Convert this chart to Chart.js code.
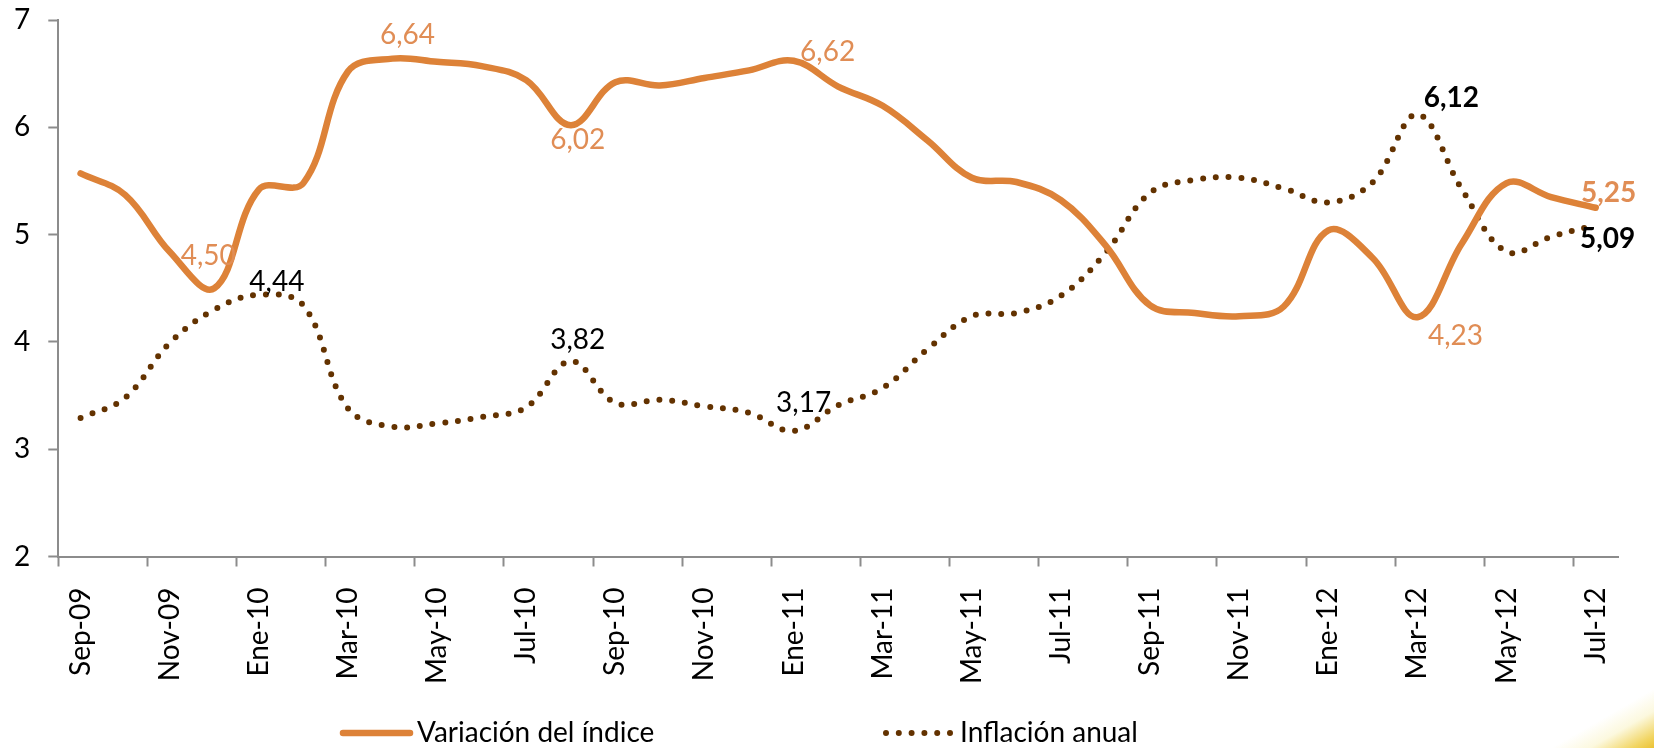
<!DOCTYPE html>
<html>
<head>
<meta charset="utf-8">
<script src="https://cdn.jsdelivr.net/npm/chart.js@4.4.1/dist/chart.umd.min.js"></script>
<style>
  html, body { margin: 0; padding: 0; background: #ffffff; }
  #wrap { position: relative; width: 1654px; height: 748px; overflow: hidden; background: #ffffff; }
  #corner { position: absolute; right: 0; bottom: 0; width: 110px; height: 60px;
    background: linear-gradient(150deg, rgba(255,255,255,0) 52%, rgba(250,244,200,0.6) 70%, rgba(240,208,80,0.9) 90%, #EBC235 100%); }
  canvas { display: block; position: relative; }
</style>
</head>
<body>
<div id="wrap"><div id="corner"></div><canvas id="c" width="1654" height="748"></canvas></div>
<script>
// ---- Data ----
const months = ["Sep-09","Oct-09","Nov-09","Dic-09","Ene-10","Feb-10","Mar-10","Abr-10","May-10","Jun-10","Jul-10","Ago-10",
  "Sep-10","Oct-10","Nov-10","Dic-10","Ene-11","Feb-11","Mar-11","Abr-11","May-11","Jun-11","Jul-11","Ago-11",
  "Sep-11","Oct-11","Nov-11","Dic-11","Ene-12","Feb-12","Mar-12","Abr-12","May-12","Jun-12","Jul-12"];

const variacionIndice = [5.57,5.37,4.84,4.50,5.42,5.48,6.52,6.64,6.61,6.57,6.44,6.02,
  6.42,6.39,6.46,6.53,6.62,6.38,6.20,5.88,5.53,5.49,5.32,4.90,
  4.34,4.27,4.24,4.33,5.04,4.78,4.23,4.92,5.48,5.35,5.25];

const inflacionAnual = [3.29,3.48,3.99,4.30,4.44,4.34,3.38,3.21,3.24,3.30,3.39,3.82,
  3.43,3.46,3.40,3.34,3.17,3.41,3.57,3.93,4.24,4.27,4.43,4.83,
  5.39,5.51,5.53,5.43,5.30,5.49,6.12,5.42,4.84,4.98,5.09];

const seriesNames = ["Variación del índice", "Inflación anual"];
const yTicks = [2, 3, 4, 5, 6, 7];

// indices of points that carry a value label
const labelledVariacion = [3, 7, 11, 16, 30, 34];
const labelledInflacion = [4, 11, 16, 30, 34];

// ---- Styles ----
const ORANGE = '#DD8238';
const ORANGE_TEXT = '#E08D55';
const BROWN = '#633200';
const AXIS = '#8C8C8C';
const FONT = 'Lato, "Open Sans", sans-serif';

// label styling per series: [dx, dy, bold, color]
const labelStyleVar = {
  3:  [-6, -32, false, ORANGE_TEXT],
  7:  [15, -24, false, ORANGE_TEXT],
  11: [7, 15, false, ORANGE_TEXT],
  16: [34, -9, false, ORANGE_TEXT],
  30: [38, 19, false, ORANGE_TEXT],
  34: [13, -15, true, ORANGE_TEXT]
};
const labelStyleInf = {
  4:  [18, -13, false, '#000000'],
  11: [7, -21, false, '#000000'],
  16: [10, -28, false, '#000000'],
  30: [34, -16, true, '#000000'],
  34: [12, 14, true, '#000000']
};

const fmt = v => v.toFixed(2).replace('.', ',');

const valueLabels = {
  id: 'valueLabels',
  afterDatasetsDraw(chart) {
    const ctx = chart.ctx;
    const sets = [[0, labelledVariacion, labelStyleVar], [1, labelledInflacion, labelStyleInf]];
    ctx.save();
    ctx.textAlign = 'center';
    ctx.textBaseline = 'middle';
    sets.forEach(([dsi, idxs, styles]) => {
      const meta = chart.getDatasetMeta(dsi);
      const data = chart.data.datasets[dsi].data;
      idxs.forEach(i => {
        const el = meta.data[i];
        const [dx, dy, bold, color] = styles[i];
        ctx.font = (bold ? 'bold ' : '') + '28px ' + FONT;
        ctx.fillStyle = color;
        ctx.fillText(fmt(data[i]), el.x + dx, el.y + dy);
      });
    });
    ctx.restore();
  }
};

const customLegend = {
  id: 'customLegend',
  afterDraw(chart) {
    const ctx = chart.ctx;
    const y = 733;
    const items = [[340, 0], [883, 1]];
    ctx.save();
    items.forEach(([x0, dsi]) => {
      const ds = chart.data.datasets[dsi];
      ctx.beginPath();
      ctx.lineWidth = ds.borderWidth;
      ctx.strokeStyle = ds.borderColor;
      ctx.lineCap = ds.borderCapStyle || 'butt';
      ctx.setLineDash(ds.borderDash || []);
      ctx.moveTo(x0 + 3, y);
      ctx.lineTo(x0 + 70, y);
      ctx.stroke();
      ctx.setLineDash([]);
      ctx.font = '28px ' + FONT;
      ctx.fillStyle = '#000000';
      ctx.textAlign = 'left';
      ctx.textBaseline = 'middle';
      ctx.fillText(ds.label, x0 + 77, y);
    });
    ctx.restore();
  }
};

new Chart(document.getElementById('c'), {
  type: 'line',
  data: {
    labels: months,
    datasets: [
      {
        label: seriesNames[0],
        data: variacionIndice,
        borderColor: ORANGE,
        backgroundColor: ORANGE,
        borderWidth: 6.5,
        borderCapStyle: 'round',
        borderJoinStyle: 'round',
        tension: 0.38,
        pointRadius: 0,
        fill: false
      },
      {
        label: seriesNames[1],
        data: inflacionAnual,
        borderColor: BROWN,
        backgroundColor: BROWN,
        borderWidth: 6,
        borderCapStyle: 'round',
        borderDash: [0, 12.8],
        tension: 0.38,
        pointRadius: 0,
        fill: false
      }
    ]
  },
  options: {
    responsive: false,
    animation: false,
    devicePixelRatio: 1,
    layout: { padding: { top: 20, right: 36, bottom: 0, left: 14 } },
    plugins: {
      legend: { display: false },
      tooltip: { enabled: false }
    },
    scales: {
      x: {
        type: 'category',
        offset: true,
        grid: {
          offset: true,
          drawOnChartArea: false,
          drawTicks: true,
          tickLength: 10,
          tickWidth: 2,
          tickColor: (c) => (c.index % 2 === 0 && c.index < months.length) ? AXIS : 'rgba(0,0,0,0)'
        },
        border: { display: true, color: AXIS, width: 2 },
        ticks: {
          autoSkip: false,
          minRotation: 90,
          maxRotation: 90,
          padding: 21,
          color: '#000000',
          font: { family: FONT, size: 28 },
          callback: function(v, i) { return i % 2 === 0 ? this.getLabelForValue(v) : ''; }
        },
        afterFit(s) { s.height = 191.5; }
      },
      y: {
        min: yTicks[0],
        max: yTicks[yTicks.length - 1],
        afterBuildTicks(s) { s.ticks = yTicks.map(v => ({ value: v })); },
        grid: {
          drawOnChartArea: false,
          drawTicks: true,
          tickLength: 10,
          tickWidth: 2,
          tickColor: AXIS
        },
        border: { display: true, color: AXIS, width: 2 },
        ticks: {
          padding: 0,
          crossAlign: 'far',
          color: '#000000',
          font: { family: FONT, size: 28 }
        },
        afterFit(s) { s.width = 44.3; }
      }
    }
  },
  plugins: [valueLabels, customLegend]
});
</script>
</body>
</html>
